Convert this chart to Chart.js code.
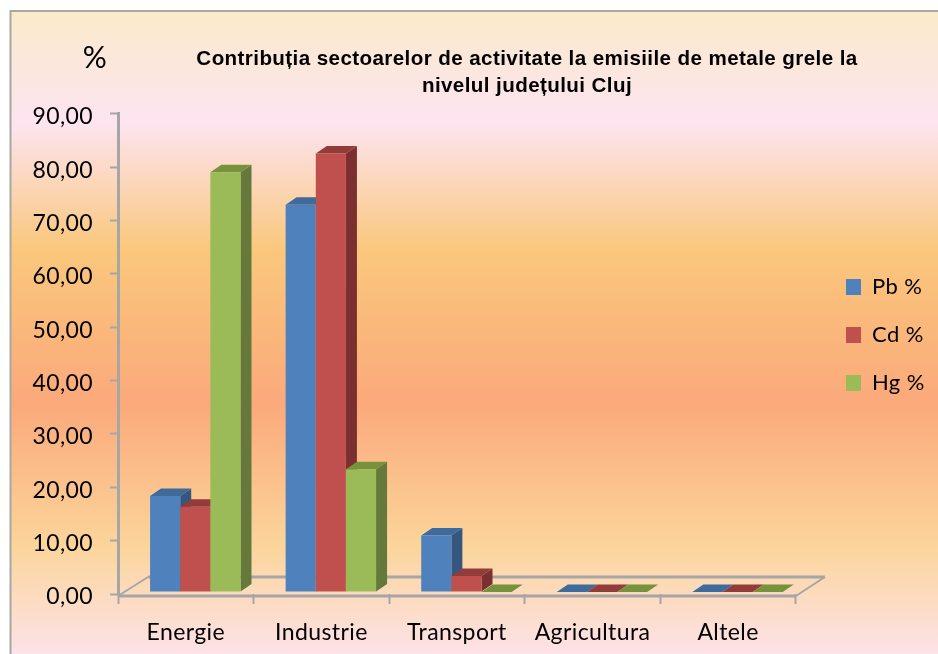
<!DOCTYPE html>
<html><head><meta charset="utf-8">
<style>html,body{margin:0;padding:0;background:#fff}#w{width:938px;height:654px;position:relative}</style>
<script src="https://cdn.jsdelivr.net/npm/chart.js@4"></script></head>
<body><div id="w"><canvas id="c"></canvas></div>
<script>
const categories = ['Energie','Industrie','Transport','Agricultura','Altele'];
const pb = [18, 72.6, 10.6, 0, 0];
const cd = [16, 82.2, 3, 0, 0];
const hg = [78.7, 23, 0, 0, 0];
const seriesNames = ['Pb %','Cd %','Hg %'];
const yTickValues = [0,10,20,30,40,50,60,70,80,90];
const yTickLabels = ['0,00','10,00','20,00','30,00','40,00','50,00','60,00','70,00','80,00','90,00'];
const titleLines = ['Contribuția sectoarelor de activitate la emisiile de metale grele la','nivelul județului Cluj'];
const unitLabel = '%';
const front = ['#4F81BD','#C0504D','#9BBB59'];
const topFace = ['#3E6A9C','#913B3A','#76923C'];
const sideFace = ['#34567F','#7B2F2E','#64793A'];
const AXIS = '#A6A6A6', FONT = 'Lato, Carlito, sans-serif';
const DX = 11, DY = 7.5, SHIFT_X = 9.5, SHIFT_Y = -2;

const scene = {
  id: 'scene',
  beforeDraw(ch) {
    const c = ch.ctx, g = c.createLinearGradient(0, 11, 0, 654);
    const stop = (y, col) => g.addColorStop((y - 11) / 643, col);
    stop(11, '#FBEACB'); stop(123, '#FDE4F0'); stop(250, '#FAC77C');
    stop(404, '#FBA97B'); stop(546, '#FBD59B'); stop(654, '#FDE2E8');
    c.letterSpacing = '0.4px';
    c.save();
    c.fillStyle = '#fff'; c.fillRect(0, 0, 938, 654);
    c.fillStyle = g; c.fillRect(10, 11, 928, 643);
    c.strokeStyle = '#A8A8A0'; c.lineWidth = 2;
    c.beginPath(); c.moveTo(10.5, 654); c.lineTo(10.5, 11); c.lineTo(938, 11); c.stroke();
    c.fillStyle = '#000'; c.font = '30px ' + FONT; c.textAlign = 'center'; c.textBaseline = 'middle';
    c.fillText(unitLabel, 95, 58);
    c.restore();
  },
  afterLayout(ch) {
    const t = ch.titleBlock; t.left = 118; t.right = 936;
    const l = ch.legend; l.left = 820; l.right = 938; l.top = 250; l.bottom = 600;
  },
  beforeDatasetsDraw(ch) {
    const c = ch.ctx, a = ch.chartArea;
    c.save();
    c.strokeStyle = AXIS; c.lineWidth = 3;
    c.beginPath();
    c.moveTo(a.left, a.bottom + 2); c.lineTo(a.right, a.bottom + 2);
    c.moveTo(a.left + 30, a.bottom - 17); c.lineTo(a.right + 29, a.bottom - 17);
    c.stroke();
    c.lineWidth = 2;
    c.beginPath();
    c.moveTo(a.left, a.bottom + 2); c.lineTo(a.left + 30, a.bottom - 17);
    c.moveTo(a.right, a.bottom + 2); c.lineTo(a.right + 29, a.bottom - 17);
    c.stroke();
    c.translate(SHIFT_X, SHIFT_Y);
    // painted left to right so each bar's front covers its neighbour's side
    [0, 1, 2].forEach(i => {
      const meta = ch.getDatasetMeta(i);
      meta.data.forEach(b => {
        const l = b.x - b.width / 2, r = b.x + b.width / 2, t = b.y, bt = b.base;
        c.fillStyle = sideFace[i];
        c.beginPath(); c.moveTo(r, t); c.lineTo(r + DX, t - DY); c.lineTo(r + DX, bt - DY); c.lineTo(r, bt); c.closePath(); c.fill();
        c.fillStyle = topFace[i];
        c.beginPath(); c.moveTo(l, t); c.lineTo(l + DX, t - DY); c.lineTo(r + DX, t - DY); c.lineTo(r, t); c.closePath(); c.fill();
        b.draw(c, a);
      });
    });
    c.restore();
    return false;
  }
};

new Chart(document.getElementById('c'), {
  type: 'bar',
  data: {
    labels: categories,
    datasets: [
      {label: seriesNames[0], data: pb, backgroundColor: front[0]},
      {label: seriesNames[1], data: cd, backgroundColor: front[1]},
      {label: seriesNames[2], data: hg, backgroundColor: front[2]}
    ]
  },
  plugins: [scene],
  options: {
    responsive: true, maintainAspectRatio: false, animation: false,
    events: [],
    categoryPercentage: 0.667, barPercentage: 1,
    layout: {padding: {left: 0, right: 29, top: 0, bottom: 0}},
    plugins: {
      tooltip: {enabled: false},
      title: {display: true, text: titleLines, color: '#000',
        font: {family: '"Liberation Sans", Arial, sans-serif', size: 20.6, weight: 'bold', lineHeight: 1.31},
        padding: {top: 45.5, bottom: 14.5}},
      legend: {position: 'right', align: 'start',
        labels: {boxWidth: 15, boxHeight: 16, padding: 26, color: '#000', font: {family: FONT, size: 22}}}
    },
    scales: {
      x: {
        border: {display: false},
        grid: {drawOnChartArea: false, drawTicks: true, tickLength: 10, tickWidth: 2, tickColor: AXIS},
        ticks: {color: '#000', font: {family: FONT, size: 23}, padding: 15, maxRotation: 0, autoSkip: false},
        afterFit(s) { s.height = 60; }
      },
      y: {
        min: 0, max: 90,
        afterBuildTicks(s) { s.ticks = yTickValues.map(v => ({value: v})); },
        border: {color: AXIS, width: 3},
        grid: {drawOnChartArea: false, drawTicks: true, tickLength: 8, tickWidth: 2, tickColor: AXIS},
        ticks: {color: '#000', font: {family: FONT, size: 23}, padding: 17, labelOffset: 3,
          callback: v => yTickLabels[yTickValues.indexOf(v)]},
        afterFit(s) { s.width = 118; }
      }
    }
  }
});
</script></body></html>
